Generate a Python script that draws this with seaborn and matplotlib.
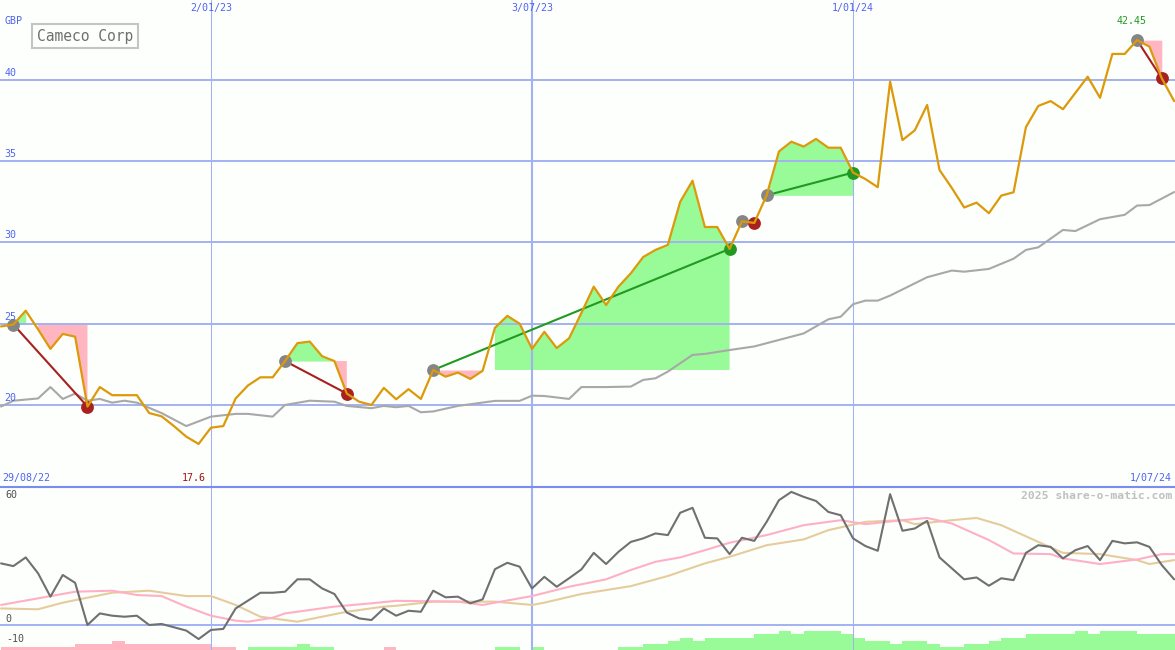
import numpy as np
import pandas as pd
import seaborn as sns
import matplotlib.pyplot as plt

sns.set_style('white')
plt.rcParams['font.family'] = ['DejaVu Sans Mono', 'DejaVu Sans']

# weekly closes, GBP
weeks = pd.date_range('2022-09-05', periods=96, freq='7D')
price = [24.83, 24.95, 25.8, 24.65, 23.45, 24.37, 24.2, 19.9, 21.1, 20.6,
         20.6, 20.6, 19.5, 19.3, 18.7, 18.05, 17.6, 18.6, 18.7, 20.4,
         21.2, 21.7, 21.7, 22.7, 23.8, 23.9, 23.0, 22.7, 20.7, 20.2,
         20.0, 21.05, 20.35, 20.97, 20.37, 22.15, 21.74, 21.99, 21.6, 22.1,
         24.75, 25.48, 25.0, 23.45, 24.5, 23.5, 24.1, 25.66, 27.28, 26.15,
         27.28, 28.1, 29.1, 29.54, 29.85, 32.5, 33.8, 30.95, 30.95, 29.6,
         31.3, 31.2, 32.9, 35.6, 36.2, 35.9, 36.37, 35.83, 35.83, 34.3,
         33.9, 33.4, 39.9, 36.3, 36.9, 38.46, 34.46, 33.35, 32.15, 32.45,
         31.8, 32.88, 33.09, 37.1, 38.4, 38.7, 38.2, 39.2, 40.2, 38.9,
         41.6, 41.6, 42.45, 42.05, 40.1, 38.7]

# long moving average (grey), read at these weeks
ma_idx = [0, 1, 3, 4, 5, 6, 7, 8, 9, 10, 11, 13, 15, 17, 19, 20, 22, 23, 25, 27,
          28, 30, 31, 32, 33, 34, 35, 37, 40, 42, 43, 44, 46, 47, 49, 51, 52, 53, 54, 56,
          57, 59, 61, 63, 65, 67, 68, 69, 70, 71, 72, 75, 77, 78, 80, 82, 83, 84, 86, 87,
          89, 91, 92, 93, 95]
ma_val = [19.9, 20.26, 20.4, 21.1, 20.37, 20.7, 20.26, 20.37, 20.14, 20.26,
          20.14, 19.5, 18.7, 19.28, 19.45, 19.45, 19.28, 20.0, 20.26, 20.2,
          19.94, 19.8, 19.94, 19.86, 19.94, 19.55, 19.6, 19.94, 20.25, 20.25,
          20.57, 20.55, 20.37, 21.1, 21.1, 21.13, 21.54, 21.64, 22.05, 23.08,
          23.14, 23.38, 23.6, 24.0, 24.4, 25.27, 25.43, 26.2, 26.42, 26.42,
          26.73, 27.86, 28.27, 28.2, 28.37, 29.0, 29.54, 29.7, 30.77, 30.7,
          31.43, 31.7, 32.27, 32.3, 33.1]

# trades: (entry week, exit week)
trades = [(1, 7), (23, 28), (35, 59), (60, 61), (62, 69), (92, 94)]

# lower panel oscillator
osc = [29.8, 28.5, 32.7, 25.0, 13.7, 24.2, 20.4, 0.0, 5.6, 4.5,
       4.0, 4.5, 0.0, 0.5, -1.1, -2.7, -6.8, -2.4, -1.9, 8.0,
       11.8, 15.6, 15.6, 16.1, 22.1, 22.1, 17.7, 15.0, 6.0, 3.2,
       2.4, 8.0, 4.5, 6.9, 6.4, 16.6, 13.4, 13.7, 10.5, 12.4,
       27.0, 30.1, 28.2, 17.7, 23.3, 18.5, 22.6, 26.9, 34.9, 29.5,
       35.4, 40.2, 41.9, 44.3, 43.5, 54.3, 56.7, 42.2, 41.9, 34.3,
       42.2, 40.7, 49.9, 60.4, 64.4, 62.0, 60.0, 54.7, 53.1, 41.9,
       38.2, 35.9, 63.3, 45.6, 46.7, 50.4, 32.7, 27.4, 22.1, 23.0,
       19.0, 22.6, 21.7, 34.9, 38.6, 37.8, 32.2, 36.2, 38.2, 31.4,
       40.7, 39.5, 40.0, 37.8, 29.0, 22.1]
fast_idx = [0, 3, 6, 9, 11, 13, 15, 17, 19, 20, 22, 23, 27, 30, 32, 37, 39, 40, 43, 46,
            49, 51, 53, 55, 57, 59, 62, 65, 68, 70, 73, 75, 77, 80, 82, 85, 86, 89, 92, 94, 95]
fast_val = [9.7, 12.9, 16.1, 16.6, 14.5, 14.0, 8.9, 4.5, 2.1, 1.6, 3.5, 5.6, 8.9, 10.5,
            11.7, 11.3, 9.7, 10.8, 14.0, 18.5, 22.1, 26.6, 30.6, 32.7, 36.2, 39.8, 43.5,
            48.3, 50.7, 48.8, 50.7, 51.8, 49.1, 41.1, 34.6, 34.3, 32.2, 29.5, 31.7, 34.3, 34.3]
slow_idx = [0, 3, 5, 9, 12, 15, 17, 19, 21, 24, 26, 28, 31, 32, 35, 40, 43, 44, 47, 51,
            54, 57, 59, 62, 65, 67, 70, 73, 74, 77, 79, 81, 84, 86, 89, 92, 93, 95]
slow_val = [8.0, 7.6, 10.8, 15.6, 16.6, 14.0, 14.0, 9.7, 4.0, 1.6, 4.0, 6.4, 8.9, 9.3,
            11.3, 11.3, 9.7, 10.8, 15.0, 18.8, 23.7, 29.8, 33.0, 38.6, 41.4, 45.9, 49.9,
            50.7, 48.8, 50.7, 51.8, 48.3, 40.2, 34.9, 34.3, 31.4, 29.5, 31.4]

# bottom strip: signed bar level per week (+ green, - pink)
bar_level = [-1, -1, -1, -1, -1, -1, -2, -2, -2, -3,
             -2, -2, -2, -2, -2, -2, -2, -1, -1, 0,
             1, 1, 1, 1, 2, 1, 1, 0, 0, 0,
             0, -1, 0, 0, 0, 0, 0, 0, 0, 0,
             1, 1, 0, 1, 0, 0, 0, 0, 0, 0,
             1, 1, 2, 2, 3, 4, 3, 4, 4, 4,
             4, 5, 5, 6, 5, 6, 6, 6, 5, 4,
             3, 3, 2, 3, 3, 2, 1, 1, 2, 2,
             3, 4, 4, 5, 5, 5, 5, 6, 5, 6,
             6, 6, 5, 5, 5, 5]

price_ticks = [20, 25, 30, 35, 40]
date_ticks = pd.to_datetime(['2023-01-02', '2023-07-03', '2024-01-01'])
date_labels = ['2/01/23', '3/07/23', '1/01/24']
date_widths = [0.75, 1.5, 0.75]

bg = '#fcfffc'
blue = '#5064f0'
grid_c = '#a3b1f2'
orange = '#dc9a0a'
up_fill = '#98fb98'
dn_fill = '#ffb6c1'
win_c = '#229922'
loss_c = '#a82020'

fig = plt.figure(figsize=(11.75, 6.5), dpi=100, facecolor=bg)
ax1 = fig.add_axes([0, 163 / 650, 1, 487 / 650])
ax2 = fig.add_axes([0, 0, 1, 163 / 650])

xmin = weeks[0] - pd.Timedelta(hours=14)
xmax = weeks[-1] + pd.Timedelta(hours=12)
for ax in (ax1, ax2):
    ax.set_facecolor(bg)
    ax.set_xlim(xmin, xmax)
    for s in ax.spines.values():
        s.set_visible(False)
    for d, w in zip(date_ticks, date_widths):
        ax.axvline(d, color=grid_c, lw=w, zorder=2)
ax1.set_ylim(14.95, 44.92)
ax2.set_ylim(-12.1, 66.77)

# ---- main panel
for v in price_ticks:
    ax1.axhline(v, color=grid_c, lw=1.4, zorder=2)
    ax1.text(0.004, v + 0.12, str(v), transform=ax1.get_yaxis_transform(),
             color=blue, fontsize=7.2, va='bottom', ha='left', zorder=6)

p = np.array(price)
for a, b in trades:
    xs = weeks[a:b + 1]
    ys = p[a:b + 1]
    lvl = p[a]
    ax1.fill_between(xs, lvl, ys, where=ys >= lvl, color=up_fill, lw=0, zorder=1)
    ax1.fill_between(xs, lvl, ys, where=ys <= lvl, color=dn_fill, lw=0, zorder=1)
    win = p[b] > lvl
    ax1.plot([weeks[a], weeks[b]], [lvl, p[b]], color=win_c if win else loss_c,
             lw=1.5, zorder=4)

sns.lineplot(x=weeks[ma_idx], y=ma_val, ax=ax1, color='#a8a8a8', lw=1.5, zorder=3)

entries = [a for a, b in trades]
wins = [b for a, b in trades if p[b] > p[a]]
losses = [b for a, b in trades if p[b] <= p[a]]
sns.scatterplot(x=weeks[entries], y=p[entries], ax=ax1, color='#858585', s=85, lw=0, zorder=5)
sns.scatterplot(x=weeks[wins], y=p[wins], ax=ax1, color=win_c, s=85, lw=0, zorder=5)
sns.scatterplot(x=weeks[losses], y=p[losses], ax=ax1, color=loss_c, s=85, lw=0, zorder=5)

sns.lineplot(x=weeks, y=price, ax=ax1, color=orange, lw=1.6, zorder=6)

ax1.text(0.004, 1 - 16 / 487, 'GBP', transform=ax1.transAxes, color=blue,
         fontsize=7.2, va='top', ha='left')
for d, lab in zip(date_ticks, date_labels):
    ax1.text(d, 1 - 3 / 487, lab, transform=ax1.get_xaxis_transform(),
             color=blue, fontsize=7.2, va='top', ha='center')
ax1.text(0.002, 4 / 487, '29/08/22', transform=ax1.transAxes, color=blue,
         fontsize=7.2, va='bottom', ha='left')
ax1.text(1 - 3 / 1175, 4 / 487, '1/07/24', transform=ax1.transAxes, color=blue,
         fontsize=7.2, va='bottom', ha='right')
imin = int(np.argmin(p))
imax = int(np.argmax(p))
ax1.text(weeks[imin] - pd.Timedelta(days=3), 4 / 487, f'{p[imin]:.1f}',
         transform=ax1.get_xaxis_transform(), color='#a01010', fontsize=7.2,
         va='bottom', ha='center')
ax1.text(weeks[imax] - pd.Timedelta(days=3), 1 - 16 / 487, f'{p[imax]:.2f}',
         transform=ax1.get_xaxis_transform(), color=win_c, fontsize=7.2,
         va='top', ha='center')
ax1.text(85 / 1175, 1 - 36 / 487, 'Cameco Corp', transform=ax1.transAxes,
         color='#707070', fontsize=10.5, va='center', ha='center',
         bbox=dict(boxstyle='square,pad=0.3', fc=bg, ec='#c4c4c4', lw=1.5))
ax1.set_xticks([])
ax1.set_yticks([])
ax1.set_xlabel('')
ax1.set_ylabel('')

# ---- lower panel
ax2.axhline(66.77, color='#7b8bef', lw=1.5, zorder=6, clip_on=False)
ax2.axhline(0, color=grid_c, lw=1.4, zorder=2)
lv = np.array(bar_level)
heights = np.abs(lv) * 1.5
colors = [up_fill if v > 0 else dn_fill for v in lv]
ax2.bar(weeks, heights, width=7, align='edge', bottom=-12.1, color=colors, lw=0, zorder=1)

sns.lineplot(x=weeks[slow_idx], y=slow_val, ax=ax2, color='#e6cc9c', lw=1.5, zorder=3)
sns.lineplot(x=weeks[fast_idx], y=fast_val, ax=ax2, color='#ffb0c6', lw=1.5, zorder=3)
sns.lineplot(x=weeks, y=osc, ax=ax2, color='#707070', lw=1.5, zorder=4)

for v in [60, 0, -10]:
    ax2.text(0.005, v + 0.6, str(v), transform=ax2.get_yaxis_transform(),
             color='#505050', fontsize=7.2, va='bottom', ha='left', zorder=6)
ax2.text(1 - 3 / 1175, 1 - 4 / 163, '2025 share-o-matic.com', transform=ax2.transAxes,
         color='#c0c0c0', fontsize=8.2, fontweight='bold', va='top', ha='right')
ax2.set_xticks([])
ax2.set_yticks([])
ax2.set_xlabel('')
ax2.set_ylabel('')

fig.savefig('out.png', dpi=100, facecolor=bg)
